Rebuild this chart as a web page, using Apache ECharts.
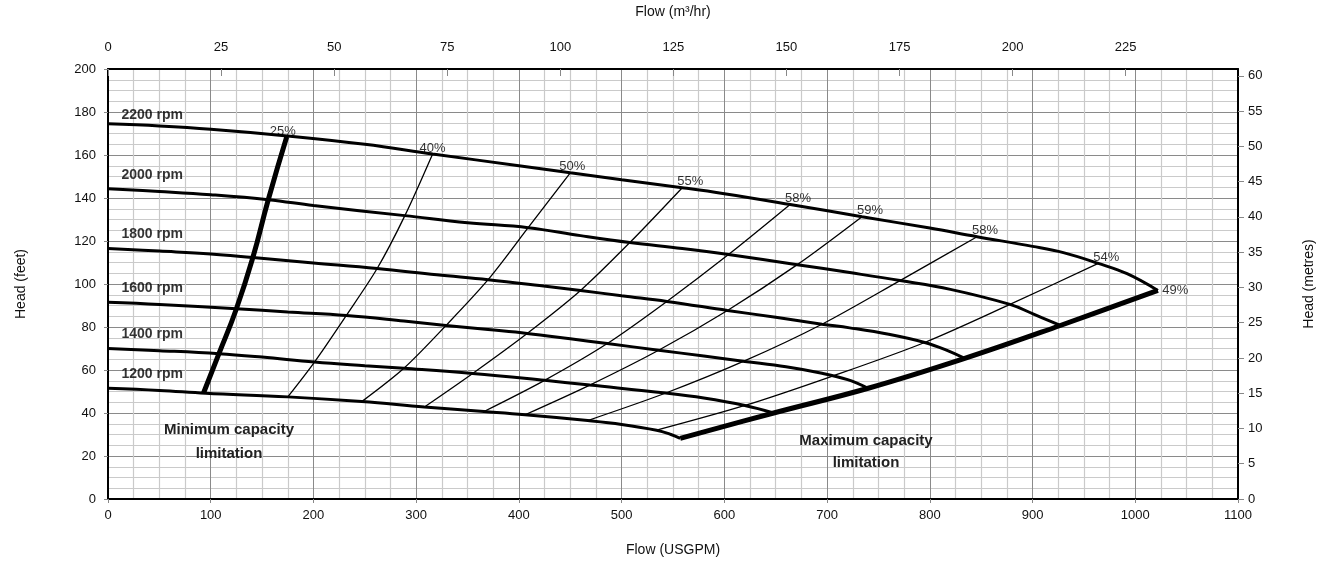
<!DOCTYPE html>
<html><head><meta charset="utf-8">
<script src="https://cdn.jsdelivr.net/npm/echarts@6/dist/echarts.min.js"></script>
<style>html,body{margin:0;padding:0;background:#fff}#c{width:1326px;height:562px}</style>
</head><body><div id="c"></div>
<script>
// ---- data (Flow USGPM, Head feet) ----
const rpmNames = ['2200 rpm','2000 rpm','1800 rpm','1600 rpm','1400 rpm','1200 rpm'];
const rpm2200 = [[0,174.5],[50,173.5],[100,172],[172,169],[250,165],[316,160.5],[400,155],[450,151.7],[500,148.5],[559,144.8],[600,142],[664,137],[734,131.3],[800,126],[846,122],[900,117.5],[930,114.6],[964,109.6],[992,104.8],[1022,97]];
const rpm2000 = [[0,144.3],[50,143],[100,141.5],[156,139.2],[200,136.5],[289,131.8],[350,128.5],[409,126.2],[460,122.5],[508,119.3],[559,116.5],[604,113.7],[671,109],[722,105.3],[771,101.6],[820,97.5],[878,90.5],[901,86],[927,80.7]];
const rpm1800 = [[0,116.5],[50,115.3],[100,114],[141,112.3],[200,109.8],[262,107.2],[320,104.3],[370,102],[420,99.3],[460,97],[500,94.5],[544,91.9],[603,87.7],[650,84.5],[695,81.3],[722,79.6],[760,76.6],[795,72.8],[815,69.5],[834,65.4]];
const rpm1600 = [[0,91.5],[50,90.5],[125,88.5],[175,87],[232,85.4],[288,82.8],[329,80.7],[370,78.8],[408,77],[450,74.5],[486,72.3],[536,69.2],[580,66.5],[620,64],[660,61.5],[695,58.5],[720,55.5],[740,51.5]];
const rpm1400 = [[0,70],[50,69],[108,67.6],[150,66],[201,63.7],[250,62],[288,60.8],[355,58.4],[425,55.2],[469,53],[543,49.3],[580,47],[620,43.5],[648,40]];
const rpm1200 = [[0,51.5],[50,50.5],[95,49.2],[175,47.5],[247,45.3],[308,42.8],[366,40.7],[406,39.2],[467,36.5],[500,34.7],[534,32],[548,30],[557,28.2]];
const minCapacity = [[93,49.3],[108,67.6],[125,88.5],[141,112.3],[156,139.2],[174,168.5]];
const maxCapacity = [[557,28.2],[648,40],[740,51.5],[834,65.4],[927,80.7],[1022,97]];
const effNames = ['40%','50%','55%','58%','59%','58%','54%'];
const eff40 = [[175,47.5],[201,63.7],[232,85.4],[262,107.2],[289,131.8],[316,160.5]];
const eff50 = [[247,45.3],[288,60.8],[329,80.7],[370,102],[409,126.2],[450,151.7]];
const eff55 = [[308,42.8],[355,58.4],[408,77],[460,97],[508,119.3],[559,144.8]];
const eff58a = [[366,40.7],[425,55.2],[486,72.3],[544,91.9],[604,113.7],[664,137]];
const eff59 = [[406,39.2],[469,53],[536,69.2],[603,87.7],[671,109],[734,131.3]];
const eff58b = [[467,36.5],[543,49.3],[619,64.1],[695,81.3],[771,101.6],[846,122]];
const eff54 = [[534,32],[620,43.5],[706,57.3],[795,72.8],[878,90.5],[964,109.6]];
const minLabel = '25%';
const endLabel = '49%';
const xTicksUSGPM = {min:0, max:1100, interval:100};
const yTicksFeet = {min:0, max:200, interval:20};
const GPM_TO_M3H = 0.227125;
const FT_TO_M = 0.3048;

const rpmCurves = [rpm2200, rpm2000, rpm1800, rpm1600, rpm1400, rpm1200];
const effCurves = [eff40, eff50, eff55, eff58a, eff59, eff58b, eff54];

const FONT = '"Liberation Sans Narrow","Liberation Sans",Arial,sans-serif';
const chart = echarts.init(document.getElementById('c'), null, {renderer:'canvas'});

const series = [];
rpmCurves.forEach((d,i)=>series.push({type:'line', data:d, smooth:0.4, showSymbol:false, silent:true,
  lineStyle:{color:'#000', width:3}, z:5}));
effCurves.forEach((d,i)=>series.push({type:'line', data:d, smooth:0.3, showSymbol:false, silent:true,
  lineStyle:{color:'#000', width:1.3}, z:4}));
series.push({type:'line', data:minCapacity, smooth:0.5, showSymbol:false, lineStyle:{color:'#000',width:5}, z:6});
series.push({type:'line', data:maxCapacity, smooth:0.4, showSymbol:false, lineStyle:{color:'#000',width:5}, z:6});
// rpm labels
series.push({type:'scatter', symbolSize:1, itemStyle:{color:'rgba(0,0,0,0)'}, z:7,
  data: rpmCurves.map((d,i)=>({value:d[0], name:rpmNames[i],
    label:{offset:[8, i===0 ? -9 : -14]}})),
  label:{show:true, position:'right', distance:5, formatter:p=>p.name, color:'#000',
    fontFamily:FONT, fontSize:14, fontWeight:'bold'}});
// efficiency labels
series.push({type:'scatter', symbolSize:1, itemStyle:{color:'rgba(0,0,0,0)'}, z:7,
  data: effCurves.map((d,i)=>({value:d[d.length-1], name:effNames[i],
    label:{offset:[i===0?0:(i<2?2:8), 2]}})).concat([
    {value:minCapacity[minCapacity.length-1], name:minLabel, label:{offset:[-4,3]}},
    {value:rpm2200[rpm2200.length-1], name:endLabel, label:{position:'right', distance:4, offset:[0,0]}}
  ]),
  label:{show:true, position:'top', distance:1, formatter:p=>p.name, color:'#000',
    fontFamily:FONT, fontSize:13}});

const axisLabelStyle = {color:'#111', fontFamily:FONT, fontSize:13};
const nameStyle = {color:'#111', fontFamily:FONT, fontSize:14};
const plain = v => String(Math.round(v));

chart.setOption({
  animation:false,
  backgroundColor:'#fff',
  grid:{left:108, right:88, top:68, bottom:63, show:false},
  xAxis:[
    {type:'value', position:'bottom', min:xTicksUSGPM.min, max:xTicksUSGPM.max, interval:xTicksUSGPM.interval,
     name:'Flow (USGPM)', nameLocation:'middle', nameGap:44, nameTextStyle:nameStyle,
     axisLine:{show:true, onZero:false, lineStyle:{color:'#000', width:2}},
     axisTick:{show:true, length:4, lineStyle:{color:'#888'}},
     axisLabel:Object.assign({margin:10, formatter:plain}, axisLabelStyle),
     splitLine:{show:true, lineStyle:{color:'#8a8a8a', width:1}},
     minorTick:{show:false, splitNumber:4},
     minorSplitLine:{show:true, lineStyle:{color:'#cacaca', width:1.2}}},
    {type:'value', position:'top', min:0, max:xTicksUSGPM.max*GPM_TO_M3H, interval:25,
     name:'Flow (m³/hr)', nameLocation:'middle', nameGap:50, nameTextStyle:nameStyle,
     axisLine:{show:true, onZero:false, lineStyle:{color:'#000', width:2}},
     axisTick:{show:true, inside:true, length:7, lineStyle:{color:'#888'}},
     axisLabel:Object.assign({margin:15, showMaxLabel:false, formatter:plain}, axisLabelStyle),
     splitLine:{show:false}}
  ],
  yAxis:[
    {type:'value', position:'left', min:yTicksFeet.min, max:yTicksFeet.max, interval:yTicksFeet.interval,
     name:'Head (feet)', nameLocation:'middle', nameGap:80, nameRotate:90, nameTextStyle:nameStyle,
     axisLine:{show:true, onZero:false, lineStyle:{color:'#000', width:2}},
     axisTick:{show:true, length:4, lineStyle:{color:'#888'}},
     axisLabel:Object.assign({margin:12, formatter:plain}, axisLabelStyle),
     splitLine:{show:true, lineStyle:{color:'#8a8a8a', width:1}},
     minorTick:{show:false, splitNumber:4},
     minorSplitLine:{show:true, lineStyle:{color:'#cacaca', width:1.2}}},
    {type:'value', position:'right', min:0, max:yTicksFeet.max*FT_TO_M, interval:5,
     name:'Head (metres)', nameLocation:'middle', nameGap:64, nameRotate:90, nameTextStyle:nameStyle,
     axisLine:{show:true, onZero:false, lineStyle:{color:'#000', width:2}},
     axisTick:{show:true, length:6, lineStyle:{color:'#888'}},
     axisLabel:Object.assign({margin:10, showMaxLabel:false, formatter:plain}, axisLabelStyle),
     splitLine:{show:false}}
  ],
  graphic:[
    {type:'text', x:229, y:418, style:{text:'Minimum capacity\nlimitation', align:'center', verticalAlign:'top',
      fill:'#222', font:'bold 15px '+FONT, lineHeight:24}, z:10},
    {type:'text', x:866, y:430, style:{text:'Maximum capacity\nlimitation', align:'center', verticalAlign:'top',
      fill:'#222', font:'bold 15px '+FONT, lineHeight:22}, z:10}
  ],
  series: series
});
</script></body></html>
